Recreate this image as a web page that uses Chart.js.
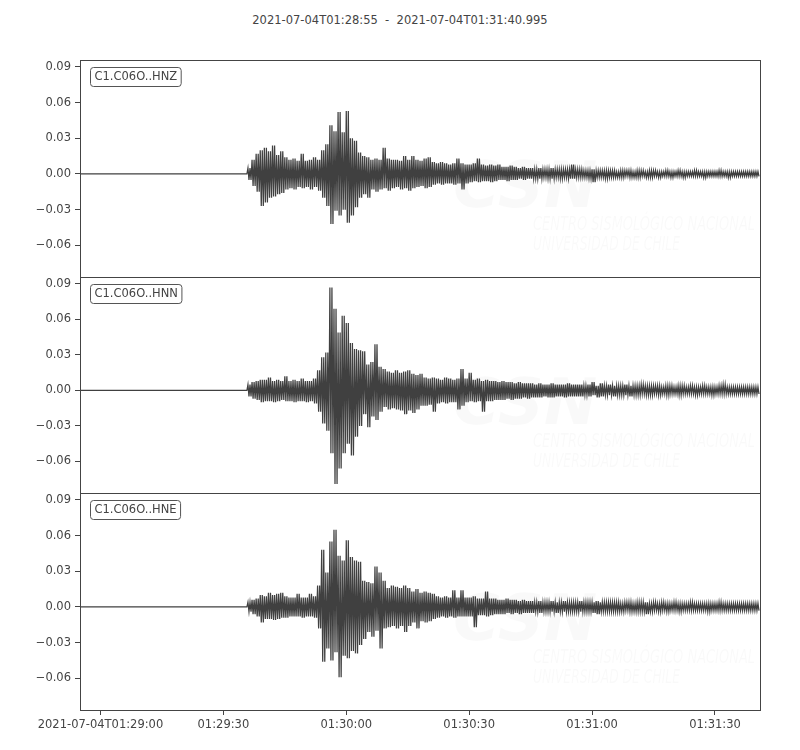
<!DOCTYPE html>
<html>
<head>
<meta charset="utf-8">
<script src="https://cdn.jsdelivr.net/npm/chart.js@4.4.1/dist/chart.umd.min.js"></script>
<style>
  body { margin: 0; background: #fff; }
  #wrap { position: relative; width: 800px; height: 750px; }
  #wrap canvas { position: absolute; left: 0; }
  #title { position: absolute; top: 13px; left: 0; width: 800px; text-align: center;
           font: 11.5px "DejaVu Sans", sans-serif; color: #444; white-space: pre; }
</style>
</head>
<body>
<div id="wrap">
  <div id="title">2021-07-04T01:28:55  -  2021-07-04T01:31:40.995</div>
  <canvas id="c1" width="800" height="247" style="top:45px"></canvas>
  <canvas id="c2" width="800" height="246" style="top:262px"></canvas>
  <canvas id="c3" width="800" height="272" style="top:478px"></canvas>
</div>
<script>
// seconds after 01:28:55 ; record ends at 01:31:40.995
const recordEnd = 165.995;
const onsetSec = 41;   // first envelope value, one value per second after this

const xTickSecs = [5, 35, 65, 95, 125, 155];
const xTickLabels = ["2021-07-04T01:29:00", "01:29:30", "01:30:00", "01:30:30", "01:31:00", "01:31:30"];
const yTickVals = [-0.06, -0.03, 0, 0.03, 0.06, 0.09];
const yMin = -0.0866, yMax = 0.0958;

const stations = ["C1.C06O..HNZ", "C1.C06O..HNN", "C1.C06O..HNE"];

// per second max / min of each trace (t = 41 .. 165 s)
const hnzUp = [
  0.005, 0.012, 0.017, 0.020, 0.022, 0.019, 0.024, 0.016, 0.019, 0.014,
  0.012, 0.013, 0.011, 0.017, 0.011, 0.012, 0.014, 0.012, 0.020, 0.025,
  0.041, 0.036, 0.052, 0.035, 0.053, 0.030, 0.028, 0.018, 0.015, 0.014,
  0.012, 0.013, 0.012, 0.022, 0.013, 0.012, 0.012, 0.011, 0.015, 0.012,
  0.015, 0.012, 0.011, 0.013, 0.014, 0.010, 0.009, 0.010, 0.009, 0.008,
  0.009, 0.013, 0.009, 0.008, 0.008, 0.009, 0.013, 0.008, 0.007, 0.008,
  0.007, 0.008, 0.006, 0.006, 0.007, 0.006, 0.005, 0.006, 0.005, 0.005,
  0.004, 0.005, 0.004, 0.004, 0.005, 0.004, 0.004, 0.004, 0.004, 0.008,
  0.004, 0.004, 0.003, 0.003, 0.004, 0.003, 0.003, 0.003, 0.003, 0.003,
  0.002, 0.003, 0.003, 0.003, 0.002, 0.003, 0.003, 0.002, 0.003, 0.003,
  0.002, 0.002, 0.003, 0.002, 0.002, 0.003, 0.002, 0.002, 0.002, 0.003,
  0.002, 0.002, 0.002, 0.002, 0.002, 0.003, 0.002, 0.002, 0.002, 0.002,
  0.002, 0.002, 0.002, 0.002, 0.002
];
const hnzLo = [
  -0.005, -0.010, -0.015, -0.027, -0.024, -0.020, -0.019, -0.017, -0.016, -0.013,
  -0.012, -0.013, -0.011, -0.012, -0.011, -0.013, -0.011, -0.014, -0.020, -0.027,
  -0.042, -0.031, -0.035, -0.030, -0.041, -0.035, -0.028, -0.020, -0.017, -0.020,
  -0.013, -0.015, -0.013, -0.012, -0.014, -0.012, -0.011, -0.013, -0.012, -0.014,
  -0.012, -0.011, -0.010, -0.012, -0.011, -0.009, -0.008, -0.009, -0.008, -0.008,
  -0.009, -0.008, -0.013, -0.008, -0.007, -0.006, -0.007, -0.006, -0.006, -0.007,
  -0.006, -0.005, -0.005, -0.006, -0.005, -0.005, -0.004, -0.005, -0.004, -0.004,
  -0.004, -0.004, -0.003, -0.004, -0.004, -0.003, -0.004, -0.003, -0.004, -0.004,
  -0.003, -0.003, -0.003, -0.004, -0.007, -0.003, -0.003, -0.004, -0.003, -0.003,
  -0.003, -0.003, -0.002, -0.003, -0.003, -0.003, -0.002, -0.003, -0.003, -0.002,
  -0.003, -0.002, -0.002, -0.003, -0.002, -0.002, -0.003, -0.002, -0.002, -0.002,
  -0.002, -0.003, -0.002, -0.002, -0.002, -0.002, -0.002, -0.003, -0.002, -0.002,
  -0.002, -0.002, -0.002, -0.002, -0.002
];
const hnnUp = [
  0.005, 0.007, 0.008, 0.009, 0.009, 0.011, 0.008, 0.009, 0.008, 0.012,
  0.008, 0.009, 0.008, 0.010, 0.008, 0.008, 0.010, 0.017, 0.028, 0.032,
  0.087, 0.069, 0.049, 0.063, 0.057, 0.040, 0.035, 0.034, 0.033, 0.022,
  0.024, 0.039, 0.020, 0.018, 0.016, 0.015, 0.017, 0.015, 0.016, 0.017,
  0.014, 0.013, 0.014, 0.011, 0.010, 0.011, 0.010, 0.009, 0.011, 0.010,
  0.009, 0.010, 0.018, 0.010, 0.015, 0.009, 0.010, 0.008, 0.009, 0.008,
  0.008, 0.007, 0.008, 0.007, 0.007, 0.006, 0.007, 0.006, 0.006, 0.006,
  0.005, 0.006, 0.005, 0.005, 0.006, 0.005, 0.005, 0.005, 0.006, 0.005,
  0.005, 0.005, 0.004, 0.005, 0.007, 0.004, 0.006, 0.004, 0.005, 0.004,
  0.004, 0.004, 0.005, 0.004, 0.004, 0.004, 0.005, 0.004, 0.004, 0.004,
  0.004, 0.003, 0.004, 0.004, 0.003, 0.004, 0.004, 0.003, 0.004, 0.003,
  0.003, 0.004, 0.003, 0.003, 0.003, 0.004, 0.005, 0.003, 0.003, 0.003,
  0.003, 0.003, 0.003, 0.003, 0.003
];
const hnnLo = [
  -0.005, -0.007, -0.008, -0.010, -0.009, -0.009, -0.010, -0.009, -0.008, -0.009,
  -0.009, -0.010, -0.009, -0.009, -0.010, -0.009, -0.011, -0.018, -0.028, -0.034,
  -0.053, -0.079, -0.066, -0.053, -0.045, -0.055, -0.039, -0.030, -0.020, -0.031,
  -0.022, -0.025, -0.018, -0.014, -0.016, -0.015, -0.016, -0.017, -0.020, -0.017,
  -0.019, -0.016, -0.013, -0.013, -0.012, -0.018, -0.011, -0.010, -0.011, -0.010,
  -0.010, -0.016, -0.013, -0.010, -0.009, -0.010, -0.009, -0.018, -0.009, -0.009,
  -0.008, -0.008, -0.008, -0.007, -0.008, -0.007, -0.007, -0.006, -0.007, -0.006,
  -0.006, -0.006, -0.005, -0.006, -0.006, -0.005, -0.005, -0.006, -0.005, -0.005,
  -0.005, -0.005, -0.004, -0.005, -0.004, -0.006, -0.005, -0.004, -0.004, -0.005,
  -0.004, -0.004, -0.004, -0.005, -0.004, -0.004, -0.003, -0.004, -0.004, -0.003,
  -0.004, -0.003, -0.004, -0.003, -0.003, -0.004, -0.003, -0.003, -0.003, -0.004,
  -0.003, -0.003, -0.003, -0.004, -0.003, -0.003, -0.003, -0.003, -0.003, -0.003,
  -0.003, -0.003, -0.003, -0.003, -0.003
];
const hneUp = [
  0.004, 0.006, 0.007, 0.010, 0.009, 0.012, 0.010, 0.011, 0.012, 0.009,
  0.008, 0.008, 0.011, 0.008, 0.008, 0.011, 0.009, 0.018, 0.048, 0.029,
  0.055, 0.065, 0.043, 0.039, 0.056, 0.042, 0.039, 0.038, 0.022, 0.021,
  0.020, 0.034, 0.029, 0.022, 0.016, 0.018, 0.017, 0.016, 0.018, 0.016,
  0.013, 0.015, 0.012, 0.013, 0.012, 0.011, 0.009, 0.008, 0.009, 0.008,
  0.014, 0.008, 0.014, 0.008, 0.008, 0.009, 0.007, 0.007, 0.013, 0.007,
  0.007, 0.006, 0.006, 0.007, 0.006, 0.006, 0.005, 0.006, 0.005, 0.005,
  0.004, 0.005, 0.004, 0.004, 0.005, 0.004, 0.004, 0.005, 0.004, 0.004,
  0.004, 0.005, 0.004, 0.004, 0.004, 0.005, 0.004, 0.004, 0.004, 0.004,
  0.004, 0.003, 0.004, 0.004, 0.003, 0.004, 0.004, 0.004, 0.003, 0.004,
  0.003, 0.004, 0.003, 0.003, 0.004, 0.003, 0.003, 0.003, 0.004, 0.003,
  0.003, 0.003, 0.003, 0.003, 0.003, 0.004, 0.003, 0.003, 0.003, 0.003,
  0.003, 0.003, 0.003, 0.003, 0.003
];
const hneLo = [
  -0.004, -0.006, -0.008, -0.013, -0.010, -0.010, -0.011, -0.010, -0.009, -0.009,
  -0.008, -0.008, -0.008, -0.009, -0.008, -0.008, -0.009, -0.018, -0.046, -0.035,
  -0.045, -0.038, -0.059, -0.041, -0.043, -0.037, -0.039, -0.032, -0.027, -0.021,
  -0.025, -0.020, -0.035, -0.018, -0.017, -0.016, -0.018, -0.016, -0.021, -0.016,
  -0.013, -0.018, -0.012, -0.013, -0.012, -0.010, -0.009, -0.008, -0.009, -0.008,
  -0.009, -0.008, -0.008, -0.008, -0.008, -0.017, -0.007, -0.007, -0.008, -0.007,
  -0.006, -0.006, -0.006, -0.005, -0.006, -0.005, -0.006, -0.005, -0.005, -0.005,
  -0.004, -0.005, -0.004, -0.004, -0.004, -0.005, -0.004, -0.004, -0.004, -0.004,
  -0.004, -0.004, -0.004, -0.004, -0.005, -0.006, -0.004, -0.004, -0.004, -0.004,
  -0.004, -0.004, -0.003, -0.004, -0.004, -0.004, -0.004, -0.006, -0.004, -0.003,
  -0.004, -0.003, -0.004, -0.003, -0.003, -0.004, -0.003, -0.003, -0.003, -0.003,
  -0.003, -0.003, -0.004, -0.003, -0.003, -0.003, -0.003, -0.003, -0.003, -0.003,
  -0.003, -0.003, -0.003, -0.003, -0.003
];

const inkColor = "#404040";
const textColor = "#444";
const tickFont = { family: "DejaVu Sans", size: 11.5 };

// flat line up to the onset, then inside every second the trace swings
// between that second's max and min (two swings, about 1 px apart)
function traceData(up, lo) {
  const pts = [{ x: 0, y: 0 }, { x: onsetSec - 0.25, y: 0 }];
  up.forEach((v, i) => {
    const t = onsetSec + i;
    pts.push({ x: t, y: v }, { x: t + 0.25, y: lo[i] });
    pts.push({ x: t + 0.5, y: v }, { x: t + 0.75, y: lo[i] });
  });
  return pts;
}

function fmtY(v) {
  return v.toFixed(2).replace("-", "\u2212");
}

// frame, station label and faint CSN watermark
const panelDeco = {
  id: "panelDeco",
  beforeDatasetsDraw(chart) {
    const { ctx, chartArea: a } = chart;
    ctx.save();
    ctx.beginPath();
    ctx.rect(a.left, a.top, a.right - a.left, a.bottom - a.top);
    ctx.clip();
    ctx.fillStyle = "rgba(0,0,0,0.022)";
    ctx.font = 'bold italic 64px "DejaVu Sans", sans-serif';
    ctx.textBaseline = "alphabetic";
    ctx.fillText("CSN", a.left + 373, a.top + 147);
    ctx.font = 'italic 19px "Liberation Sans Narrow", "DejaVu Sans Condensed", sans-serif';
    ctx.fillText("CENTRO SISMOLÓGICO NACIONAL", a.left + 453, a.top + 170, 222);
    ctx.fillText("UNIVERSIDAD DE CHILE", a.left + 453, a.top + 190, 147);
    ctx.restore();
  },
  afterDraw(chart, args, opts) {
    const { ctx, chartArea: a } = chart;
    ctx.save();
    ctx.strokeStyle = textColor;
    ctx.lineWidth = 1;
    ctx.strokeRect(Math.round(a.left) + 0.5, Math.round(a.top) + 0.5,
                   Math.round(a.right - a.left), Math.round(a.bottom - a.top));
    ctx.font = '11.5px "DejaVu Sans", sans-serif';
    const w = ctx.measureText(opts.label).width + 8;
    const bx = Math.round(a.left) + 10.5, by = Math.round(a.top) + 7.5;
    ctx.beginPath();
    ctx.roundRect(bx, by, w, 19, 3);
    ctx.fillStyle = "#fff";
    ctx.fill();
    ctx.strokeStyle = "#555";
    ctx.stroke();
    ctx.fillStyle = textColor;
    ctx.textBaseline = "middle";
    ctx.fillText(opts.label, bx + 4, by + 10);
    ctx.restore();
  }
};

function makeTrace(id, label, up, lo, showX, padBottom) {
  return new Chart(document.getElementById(id), {
    type: "line",
    data: {
      datasets: [{
        data: traceData(up, lo),
        borderColor: inkColor,
        borderWidth: 1.25,
        pointRadius: 0,
        tension: 0,
        fill: false
      }]
    },
    options: {
      responsive: false,
      animation: false,
      events: [],
      layout: { padding: { top: 15, bottom: padBottom, left: 0, right: 40 } },
      plugins: {
        legend: { display: false },
        tooltip: { enabled: false },
        panelDeco: { label: label }
      },
      scales: {
        x: {
          type: "linear",
          min: 0,
          max: recordEnd,
          display: showX,
          afterBuildTicks: s => { s.ticks = xTickSecs.map(v => ({ value: v })); },
          afterFit: s => { s.height = showX ? 40 : 0; },
          ticks: {
            autoSkip: false,
            maxRotation: 0,
            padding: 3,
            color: textColor,
            font: tickFont,
            callback: v => xTickLabels[xTickSecs.indexOf(v)]
          },
          grid: { drawOnChartArea: false, drawTicks: true, tickLength: 5, color: textColor },
          border: { display: false }
        },
        y: {
          type: "linear",
          min: yMin,
          max: yMax,
          afterBuildTicks: s => { s.ticks = yTickVals.map(v => ({ value: v })); },
          afterFit: s => { s.width = 80; },
          ticks: { padding: 4, color: textColor, font: tickFont, callback: v => fmtY(v) },
          grid: { drawOnChartArea: false, drawTicks: true, tickLength: 5, color: textColor },
          border: { display: false }
        }
      }
    },
    plugins: [panelDeco]
  });
}

makeTrace("c1", stations[0], hnzUp, hnzLo, false, 15);
makeTrace("c2", stations[1], hnnUp, hnnLo, false, 15);
makeTrace("c3", stations[2], hneUp, hneLo, true, 0);
</script>
</body>
</html>
